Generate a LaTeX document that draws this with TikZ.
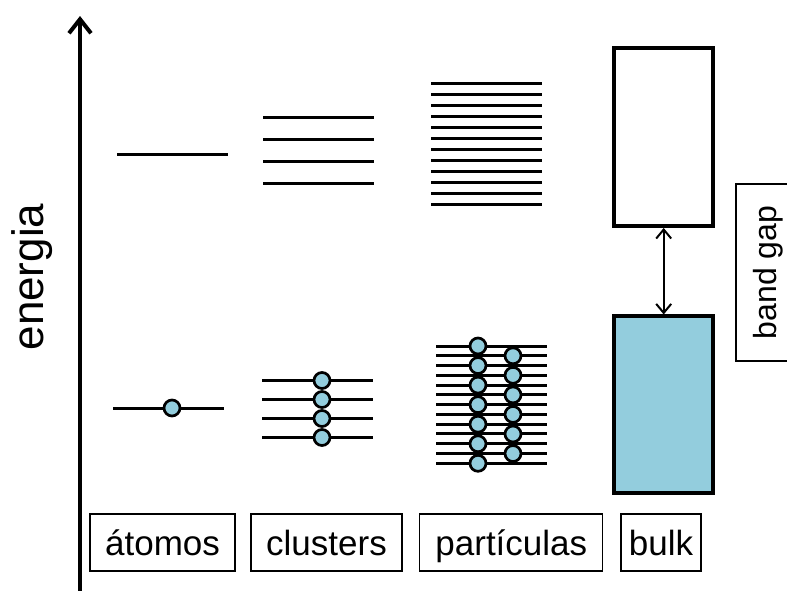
\documentclass[tikz,border=0pt]{standalone}
\usepackage{fontspec}
\setmainfont{Liberation Sans}
\usetikzlibrary{arrows.meta}
\definecolor{fillblue}{HTML}{93CDDD}

\begin{document}
\begin{tikzpicture}[x=1pt,y=-1pt,
  level/.style={line width=3pt},
  electron/.style={draw, fill=fillblue, line width=2.7pt},
  labelbox/.style={draw, line width=1.2pt, minimum height=57pt, inner sep=0pt,
    text height=25pt, text depth=0pt, font=\fontsize{35}{40}\selectfont},
  band/.style={draw, line width=3.5pt, inner sep=0pt, minimum width=99pt},
]
\useasboundingbox (0,0) rectangle (787,590);
\clip (0,0) rectangle (787,590);

% energy axis
\coordinate (axbot) at (80,592);
\coordinate (axtop) at (80,16);
\draw[line width=4pt, -{Straight Barb[length=14pt,width=22pt]}] (axbot) -- (axtop);
\node[rotate=90, anchor=base, font=\fontsize{44}{50}\selectfont] (energia) at (43,277) {energia};

% atoms
\draw[level] (117,154) -- (228,154);
\draw[level] (113,408) -- (224,408);
\draw[electron] (172,408) circle[radius=8];

% clusters
\foreach \y in {117,139,161,183} \draw[level] (263,\y) -- (374,\y);
\foreach \y in {380.5,399.5,418.5,437.5} \draw[level] (262,\y) -- (373,\y);
\foreach \y in {380.5,399.5,418.5,437.5} \draw[electron] (322,\y) circle[radius=8];

% particles
\foreach \i in {0,...,11} \draw[level] (431,{83+\i*11.09}) -- (542,{83+\i*11.09});
\foreach \i in {0,...,12} \draw[level] (436,{346+\i*9.775}) -- (547,{346+\i*9.775});
\foreach \i in {0,2,...,12} \draw[electron] (478,{346+\i*9.775}) circle[radius=8];
\foreach \i in {1,3,...,11} \draw[electron] (513,{346+\i*9.775}) circle[radius=8];

% bulk
\node[band, minimum height=178pt] (vb) at (663.7,137.2) {};
\node[band, fill=fillblue, minimum height=177pt] (cb) at (663.7,404.7) {};
\draw[line width=2pt, {Straight Barb[length=9pt,width=15pt]}-{Straight Barb[length=9pt,width=15pt]}] (vb.south) -- (cb.north);

% band gap label
\node[draw, line width=1.2pt, rotate=90, minimum width=177pt, minimum height=64pt, inner sep=0pt,
  font=\fontsize{32}{38}\selectfont, text height=23pt, text depth=7pt] (bandgap) at (768,272.5) {band gap};

% bottom labels
\node[labelbox, minimum width=145pt] (atomos) at (162.5,542.5) {átomos};
\node[labelbox, minimum width=151pt] (clusters) at (326.5,542.5) {clusters};
\node[labelbox, minimum width=183pt] (particulas) at (511.3,542.5) {partículas};
\node[labelbox, minimum width=80pt] (bulk) at (661,542.5) {bulk};
\end{tikzpicture}
\end{document}
